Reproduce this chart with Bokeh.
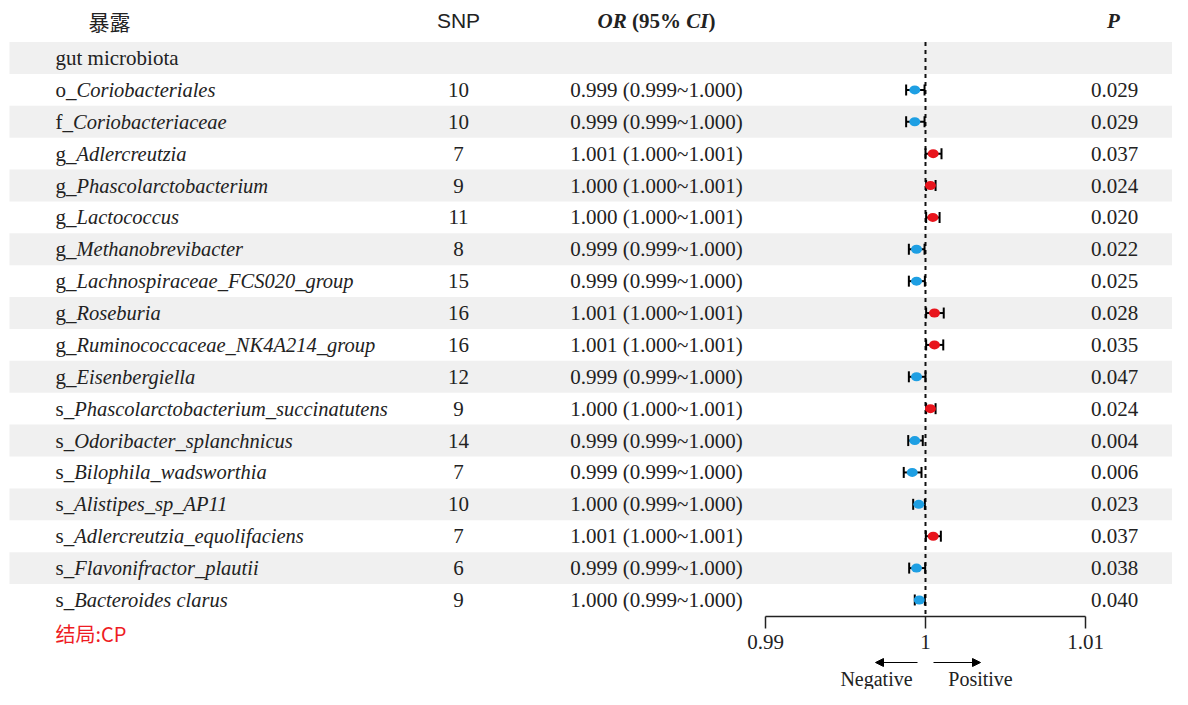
import numpy as np
from bokeh.plotting import figure
from bokeh.models import Range1d, ColumnDataSource, Arrow, NormalHead
from bokeh.core.properties import value
from bokeh.embed import file_html
from bokeh.resources import INLINE

# ---------------- data ----------------
labels = ["gut microbiota", "o_Coriobacteriales", "f_Coriobacteriaceae", "g_Adlercreutzia",
          "g_Phascolarctobacterium", "g_Lactococcus", "g_Methanobrevibacter",
          "g_Lachnospiraceae_FCS020_group", "g_Roseburia", "g_Ruminococcaceae_NK4A214_group",
          "g_Eisenbergiella", "s_Phascolarctobacterium_succinatutens", "s_Odoribacter_splanchnicus",
          "s_Bilophila_wadsworthia", "s_Alistipes_sp_AP11", "s_Adlercreutzia_equolifaciens",
          "s_Flavonifractor_plautii", "s_Bacteroides clarus"]
snp = ["", "10", "10", "7", "9", "11", "8", "15", "16", "16", "12", "9", "14", "7", "10", "7", "6", "9"]
or_text = ["", "0.999 (0.999~1.000)", "0.999 (0.999~1.000)", "1.001 (1.000~1.001)",
           "1.000 (1.000~1.001)", "1.000 (1.000~1.001)", "0.999 (0.999~1.000)",
           "0.999 (0.999~1.000)", "1.001 (1.000~1.001)", "1.001 (1.000~1.001)",
           "0.999 (0.999~1.000)", "1.000 (1.000~1.001)", "0.999 (0.999~1.000)",
           "0.999 (0.999~1.000)", "1.000 (0.999~1.000)", "1.001 (1.000~1.001)",
           "0.999 (0.999~1.000)", "1.000 (0.999~1.000)"]
p_text = ["", "0.029", "0.029", "0.037", "0.024", "0.020", "0.022", "0.025", "0.028", "0.035",
          "0.047", "0.024", "0.004", "0.006", "0.023", "0.037", "0.038", "0.040"]
# plotted estimates (rows 1..17)
or_est = [0.99933, 0.99933, 1.00048, 1.00031, 1.00046, 0.99944, 0.99944, 1.00056, 1.00056,
          0.99944, 1.00031, 0.99933, 0.99917, 0.99958, 1.00048, 0.99944, 0.99961]
ci_lo = [0.99879, 0.99879, 1.00000, 1.00004, 1.00004, 0.99896, 0.99896, 1.00004, 1.00004,
         0.99896, 1.00004, 0.99892, 0.99864, 0.99923, 1.00002, 0.99898, 0.99933]
ci_hi = [0.99994, 0.99994, 1.00100, 1.00063, 1.00088, 0.99994, 0.99996, 1.00114, 1.00111,
         1.00000, 1.00063, 0.99983, 0.99975, 0.99996, 1.00096, 0.99998, 0.99996]
ticks = [0.99, 1.0, 1.01]
header = ["暴露", "SNP", "P"]
outcome = "结局:CP"

# ---------------- layout ----------------
W, H = 1172, 689
ROW0, ROWH = 57.5, 31.88          # px of row 0 centre, row height
def row_of(py):
    return (py - ROW0) / ROWH

SERIF = value("Liberation Serif")
SANS = value("Liberation Sans")
CJK = value("Noto Sans CJK SC")
FS = 21
TXT = "#222222"
BLUE = "#1e9fe3"
RED = "#e8141c"
BAND = "#f0f0f0"

# Times-compatible advance widths (em)
ADV = {"o": 0.5, "f": 0.333, "g": 0.5, "s": 0.389, "_": 0.5}

# forest scale: 0.99 -> 765px, 1 -> 925px, 1.01 -> 1085px
PX_PER_UNIT = 16000.0
or_start = 1 - 925 / PX_PER_UNIT
or_end = 1 + (W - 925) / PX_PER_UNIT

p = figure(width=W, height=H, x_range=Range1d(0, W),
           y_range=Range1d(row_of(H), row_of(0)),
           output_backend="svg", toolbar_location=None, min_border=0,
           x_axis_type=None, y_axis_type=None, outline_line_color=None)
p.extra_x_ranges = {"or": Range1d(or_start, or_end)}
p.grid.visible = False
p.background_fill_color = "white"
p.border_fill_color = "white"

n = len(labels)
rows = np.arange(n)

# alternating bands
band_rows = [r for r in rows if r % 2 == 0]
p.quad(left=9, right=W + 10, top=[r - 0.5 for r in band_rows], bottom=[r + 0.5 for r in band_rows],
       fill_color=BAND, line_color=None)

# header
hy = row_of(20)
p.text(x=[109], y=[hy], text=[header[0]], text_font=CJK, text_font_size=f"{FS}px",
       text_align="center", text_baseline="middle", text_color=TXT)
p.text(x=[458], y=[hy], text=[header[1]], text_font=SANS, text_font_size=f"{FS}px",
       text_align="center", text_baseline="middle", text_color=TXT)
p.text(x=[1113], y=[hy], text=[header[2]], text_font=SERIF, text_font_size=f"{FS}px",
       text_font_style="bold italic", text_align="center", text_baseline="middle", text_color=TXT)
# "OR (95% CI)" in pieces
pieces = [("OR", "bold italic", 0.722 + 0.667),
          ("(95%", "bold", 0.333 + 0.5 + 0.5 + 1.0 + 0.25),
          ("CI", "bold italic", 0.667 + 0.389),
          (")", "bold", 0.333)]
total = sum(w for _, _, w in pieces) + 0.25
xc = 656 - total * FS / 2
for i, (t, st, w) in enumerate(pieces):
    p.text(x=[xc], y=[hy], text=[t], text_font=SERIF, text_font_size=f"{FS}px",
           text_font_style=st, text_align="left", text_baseline="middle", text_color=TXT)
    xc += w * FS + (0.25 * FS if i == 0 else 0)

# label column
pre_x, pre_y, pre_t, nm_x, nm_y, nm_t = [], [], [], [], [], []
for r, lab in enumerate(labels):
    if r == 0:
        pre_x.append(55); pre_y.append(r); pre_t.append(lab)
        continue
    pre, name = lab.split("_", 1)
    pre = pre + "_"
    pre_x.append(55); pre_y.append(r); pre_t.append(pre)
    nm_x.append(55 + sum(ADV[c] for c in pre) * FS); nm_y.append(r); nm_t.append(name)
p.text(x=pre_x, y=pre_y, text=pre_t, text_font=SERIF, text_font_size=f"{FS}px",
       text_align="left", text_baseline="middle", text_color=TXT)
p.text(x=nm_x, y=nm_y, text=nm_t, text_font=SERIF, text_font_size="20.5px",
       text_font_style="italic", text_align="left", text_baseline="middle", text_color=TXT)

# SNP, OR, P columns
for xpos, col in [(458, snp), (656, or_text), (1114, p_text)]:
    p.text(x=[xpos] * n, y=rows, text=col, text_font=SERIF, text_font_size=f"{FS}px",
           text_align="center", text_baseline="middle", text_color=TXT)

# forest
axis_row = row_of(616)
p.segment(x0=[1], y0=[-0.5], x1=[1], y1=[axis_row], x_range_name="or",
          line_color="#111111", line_width=2, line_dash="4 4")
frow = rows[1:]
src = ColumnDataSource(dict(y=frow, est=or_est, lo=ci_lo, hi=ci_hi,
                            color=[RED if v > 1 else BLUE for v in or_est]))
p.segment(x0="lo", y0="y", x1="hi", y1="y", source=src, x_range_name="or",
          line_color="black", line_width=2)
for f in ("lo", "hi"):
    p.scatter(x=f, y="y", source=src, x_range_name="or", marker="dash", angle=np.pi / 2,
              size=11, line_color="black", line_width=2)
p.ellipse(x="est", y="y", width=11, height=9, width_units="screen", height_units="screen",
          source=src, x_range_name="or", fill_color="color", line_color=None)

# axis
p.segment(x0=[ticks[0]], y0=[axis_row], x1=[ticks[-1]], y1=[axis_row], x_range_name="or",
          line_color="#222222", line_width=1.5)
p.segment(x0=ticks, y0=[axis_row] * len(ticks), x1=ticks, y1=[row_of(628)] * len(ticks),
          x_range_name="or", line_color="#222222", line_width=1.5)
p.text(x=ticks, y=[row_of(641)] * len(ticks), text=[f"{t:g}" for t in ticks], x_range_name="or",
       text_font=SERIF, text_font_size=f"{FS}px", text_align="center", text_baseline="middle",
       text_color=TXT)

# direction arrows
ay = row_of(662)
p.add_layout(Arrow(x_start=917, y_start=ay, x_end=875, y_end=ay, line_width=1, line_color="black",
                   end=NormalHead(size=8, fill_color="black", line_color="black")))
p.add_layout(Arrow(x_start=933, y_start=ay, x_end=980, y_end=ay, line_width=1, line_color="black",
                   end=NormalHead(size=8, fill_color="black", line_color="black")))
ty = row_of(678)
p.text(x=[876, 980], y=[ty, ty], text=["Negative", "Positive"], text_font=SERIF,
       text_font_size=f"{FS - 1}px", text_align="center", text_baseline="middle", text_color=TXT)

# outcome label
p.text(x=[55], y=[row_of(633)], text=[outcome], text_font=CJK, text_font_size="20px",
       text_align="left", text_baseline="middle", text_color="#ee1c24")

open("out.html", "w").write(file_html(p, INLINE))
